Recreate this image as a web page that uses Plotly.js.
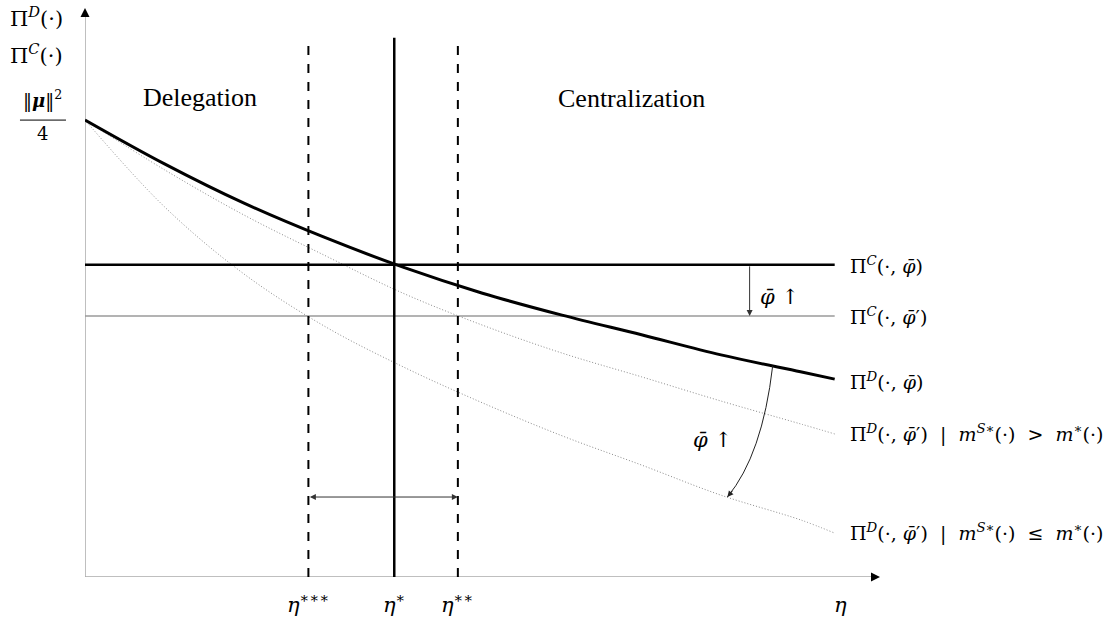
<!DOCTYPE html>
<html>
<head>
<meta charset="utf-8">
<script src="https://cdn.plot.ly/plotly-3.0.1.min.js"></script>
<style>html,body{margin:0;padding:0;background:#fff;}#chart{width:1120px;height:622px;}</style>
</head>
<body>
<div id="chart"></div>
<script>
// ---- data (arbitrary units) ----
const eta = [0, 1, 2, 3, 4, 5, 6, 7, 8, 9, 9.43];
const piD = [1.0, 0.904, 0.818, 0.744, 0.678, 0.621, 0.573, 0.530, 0.486, 0.449, 0.433];
const piDPrimeHigh = [1.0, 0.891, 0.792, 0.705, 0.621, 0.551, 0.490, 0.438, 0.385, 0.335, 0.313];
const piDPrimeLow = [1.0, 0.810, 0.663, 0.550, 0.460, 0.381, 0.309, 0.245, 0.179, 0.125, 0.096];
const piC = 0.683;
const piCPrime = 0.571;
const etaTriple = 2.81, etaStar = 3.89, etaDouble = 4.69;
const etaEnd = 9.43;
const regionLabels = ["Delegation", "Centralization"];
const etaLabels = ["<i>η</i><sup>∗∗∗</sup>", "<i>η</i><sup>∗</sup>", "<i>η</i><sup>∗∗</sup>"];
const curveLabels = [
  "Π<sup><i>C</i></sup>(·, <i>φ̄</i>)",
  "Π<sup><i>C</i></sup>(·, <i>φ̄</i>′)",
  "Π<sup><i>D</i></sup>(·, <i>φ̄</i>)",
  "Π<sup><i>D</i></sup>(·, <i>φ̄</i>′)  |  <i>m</i><sup><i>S</i>∗</sup>(·)  &gt;  <i>m</i><sup>∗</sup>(·)",
  "Π<sup><i>D</i></sup>(·, <i>φ̄</i>′)  |  <i>m</i><sup><i>S</i>∗</sup>(·)  ≤  <i>m</i><sup>∗</sup>(·)"
];

const XR = [0, 10], YR = [0, 1.245];
const serif = "Liberation Serif, DejaVu Serif, serif";
const mathFam = "DejaVu Serif, serif";
const mathFont = {family: mathFam, size: 19, color: "#000"};

const traces = [
  {x: eta, y: piDPrimeLow, mode: "lines", line: {color: "#8a8a8a", width: 1, dash: "1px,2px", shape: "spline"}, hoverinfo: "skip"},
  {x: eta, y: piDPrimeHigh, mode: "lines", line: {color: "#8a8a8a", width: 1, dash: "1px,2px", shape: "spline"}, hoverinfo: "skip"},
  {x: [0, etaEnd], y: [piCPrime, piCPrime], mode: "lines", line: {color: "#9a9a9a", width: 1.5}, hoverinfo: "skip"},
  {x: [0, etaEnd], y: [piC, piC], mode: "lines", line: {color: "#000", width: 2.5}, hoverinfo: "skip"},
  {x: eta, y: piD, mode: "lines", line: {color: "#000", width: 3, shape: "spline"}, hoverinfo: "skip"}
];

const shapes = [
  // axes
  {type: "line", xref: "x", yref: "y", x0: 0, y0: 0, x1: 0, y1: YR[1] - 0.01, line: {color: "#aaa", width: 1.5}, layer: "below"},
  {type: "line", xref: "x", yref: "y", x0: 0, y0: 0, x1: XR[1] - 0.05, y1: 0, line: {color: "#aaa", width: 1.5}, layer: "below"},
  // vertical lines
  {type: "line", xref: "x", yref: "y", x0: etaTriple, x1: etaTriple, y0: 0, y1: 1.175, line: {color: "#000", width: 2, dash: "dash"}},
  {type: "line", xref: "x", yref: "y", x0: etaStar, x1: etaStar, y0: 0, y1: 1.18, line: {color: "#000", width: 2.5}},
  {type: "line", xref: "x", yref: "y", x0: etaDouble, x1: etaDouble, y0: 0, y1: 1.175, line: {color: "#000", width: 2, dash: "dash"}},
  // curved arrow body
  {type: "path", xref: "x", yref: "y", path: "M 8.65,0.462 Q 8.52,0.267 8.08,0.175", line: {color: "#222", width: 1}},
  // fraction bar
  {type: "line", xref: "paper", yref: "paper", x0: -0.0818, x1: -0.0239, y0: 0.803, y1: 0.803, line: {color: "#000", width: 1}}
];

const ann = [];
// axis arrowheads
ann.push({x: 0, y: YR[1], xref: "x", yref: "y", ax: 0, ay: 8, showarrow: true, arrowhead: 2, arrowsize: 1.2, arrowwidth: 1.5, arrowcolor: "#000", text: "", standoff: 0});
ann.push({x: XR[1], y: 0, xref: "x", yref: "y", ax: -8, ay: 0, showarrow: true, arrowhead: 2, arrowsize: 1.2, arrowwidth: 1.5, arrowcolor: "#000", text: "", standoff: 0});
// double arrow between eta*** and eta**
ann.push({x: etaDouble, y: 0.175, ax: etaTriple, ay: 0.175, xref: "x", yref: "y", axref: "x", ayref: "y", showarrow: true, arrowside: "end+start", arrowhead: 2, arrowsize: 1.2, arrowwidth: 1, arrowcolor: "#333", text: "", standoff: 0, startstandoff: 0});
// down arrow between Pi^C lines
ann.push({x: 8.36, y: piCPrime, ax: 8.36, ay: piC, xref: "x", yref: "y", axref: "x", ayref: "y", showarrow: true, arrowhead: 2, arrowsize: 1.2, arrowwidth: 1, arrowcolor: "#333", text: "", standoff: 0});
// curved arrow head
ann.push({x: 8.08, y: 0.175, xref: "x", yref: "y", ax: 6.4, ay: -7.7, showarrow: true, arrowhead: 2, arrowsize: 1.2, arrowwidth: 1, arrowcolor: "#222", text: "", standoff: 0});
// phi up labels
ann.push({x: 8.74, y: 0.613, xref: "x", yref: "y", xanchor: "center", yanchor: "middle", text: "<i>φ̄</i> ↑", showarrow: false, font: {family: mathFam, size: 21, color: "#000"}});
ann.push({x: 7.89, y: 0.300, xref: "x", yref: "y", xanchor: "center", yanchor: "middle", text: "<i>φ̄</i> ↑", showarrow: false, font: {family: mathFam, size: 21, color: "#000"}});
// region labels
ann.push({x: 1.45, y: 1.05, xref: "x", yref: "y", xanchor: "center", yanchor: "middle", text: regionLabels[0], showarrow: false, font: {family: serif, size: 26, color: "#000"}});
ann.push({x: 6.88, y: 1.046, xref: "x", yref: "y", xanchor: "center", yanchor: "middle", text: regionLabels[1], showarrow: false, font: {family: serif, size: 26, color: "#000"}});
// right-hand curve labels
const labelY = [piC, piCPrime, 0.429, 0.313, 0.098];
curveLabels.forEach((t, i) => {
  ann.push({x: 9.6, y: labelY[i], xref: "x", yref: "y", xanchor: "left", yanchor: "middle", text: t, showarrow: false, font: mathFont});
});
// eta labels on x axis
[etaTriple, etaStar, etaDouble].forEach((v, i) => {
  ann.push({x: v, y: -0.046, xref: "x", yref: "paper", xanchor: "center", yanchor: "middle", text: etaLabels[i], showarrow: false, font: {family: mathFam, size: 21, color: "#000"}});
});
ann.push({x: 9.5, y: -0.05, xref: "x", yref: "paper", xanchor: "center", yanchor: "middle", text: "<i>η</i>", showarrow: false, font: {family: mathFam, size: 21, color: "#000"}});
// left y labels
ann.push({x: -0.0605, y: 0.985, xref: "paper", yref: "paper", xanchor: "center", yanchor: "middle", text: "Π<sup><i>D</i></sup>(·)", showarrow: false, font: {family: mathFam, size: 21, color: "#000"}});
ann.push({x: -0.0605, y: 0.92, xref: "paper", yref: "paper", xanchor: "center", yanchor: "middle", text: "Π<sup><i>C</i></sup>(·)", showarrow: false, font: {family: mathFam, size: 21, color: "#000"}});
ann.push({x: -0.053, y: 0.839, xref: "paper", yref: "paper", xanchor: "center", yanchor: "middle", text: "‖<b><i>μ</i></b>‖<sup>2</sup>", showarrow: false, font: {family: mathFam, size: 18, color: "#000"}});
ann.push({x: -0.053, y: 0.779, xref: "paper", yref: "paper", xanchor: "center", yanchor: "middle", text: "4", showarrow: false, font: {family: mathFam, size: 18, color: "#000"}});

const layout = {
  width: 1120, height: 622,
  margin: {l: 85, r: 240, t: 8, b: 45},
  paper_bgcolor: "#fff", plot_bgcolor: "#fff",
  showlegend: false,
  xaxis: {range: XR, visible: false, fixedrange: true},
  yaxis: {range: YR, visible: false, fixedrange: true},
  shapes: shapes,
  annotations: ann
};

Plotly.newPlot("chart", traces, layout, {displayModeBar: false, staticPlot: true});
</script>
</body>
</html>
